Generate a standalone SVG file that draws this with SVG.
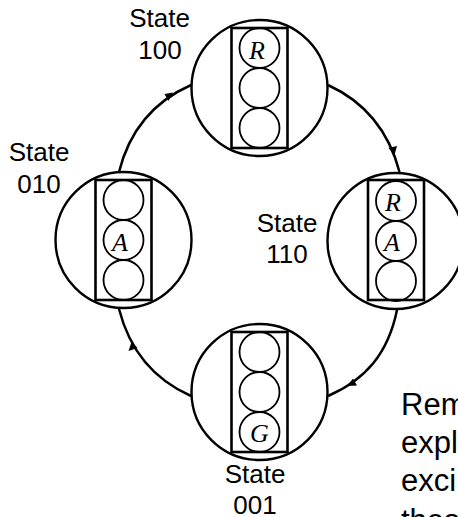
<svg xmlns="http://www.w3.org/2000/svg" width="458" height="517" viewBox="0 0 458 517">
<style>
.o{fill:none;stroke:#000;stroke-width:2.4}
.b{fill:none;stroke:#000;stroke-width:2.6}
.l{fill:none;stroke:#000;stroke-width:1.8}
.c{fill:none;stroke:#000;stroke-width:2.5}
.t{font-family:"Liberation Sans",Arial,sans-serif;font-size:26px;fill:#000;text-anchor:middle}
.n{font-family:"Liberation Sans",Arial,sans-serif;font-size:31px;fill:#000}
.g{font-family:"Liberation Serif","Times New Roman",serif;font-size:26px;font-style:italic;fill:#000;text-anchor:middle}
.a{fill:#000;stroke:none}
</style>
<g id="connectors">
<path class="c" d="M328 85C363 101 388 128 399.500 172"/>
<path class="c" d="M397 310C388 354 365 380 328 396"/>
<path class="c" d="M191 396C155 380 130 352 119 309"/>
<path class="c" d="M119 172C130 128 155 101 191 85"/>
<polygon class="a" points="394.500,155 388.500,148 397,146"/>
<polygon class="a" points="347,386 353,378.500 357,385.500"/>
<polygon class="a" points="131.500,342 128.500,351 137.500,348"/>
<polygon class="a" points="173,92.500 164.500,94 168.500,101"/>
</g>
<g id="state100">
<circle class="o" cx="259.500" cy="88" r="68"/>
<rect class="b" x="231.500" y="28" width="56" height="120"/>
<circle class="l" cx="259.500" cy="48" r="20"/><circle class="l" cx="259.500" cy="88" r="20"/><circle class="l" cx="259.500" cy="128" r="20"/>
<text class="g" x="257" y="59">R</text>
<text class="t" x="159.500" y="27">State</text><text class="t" x="160" y="59">100</text>
</g>
<g id="state110">
<circle class="o" cx="395.500" cy="241" r="68"/>
<rect class="b" x="368" y="180" width="56" height="120"/>
<circle class="l" cx="396" cy="201" r="20"/><circle class="l" cx="396" cy="241" r="20"/><circle class="l" cx="396" cy="281" r="20"/>
<text class="g" x="393" y="211">R</text><text class="g" x="392" y="251">A</text>
<text class="t" x="287" y="232">State</text><text class="t" x="287" y="263">110</text>
</g>
<g id="state001">
<circle class="o" cx="259.500" cy="392" r="68"/>
<rect class="b" x="231.500" y="332" width="56" height="120"/>
<circle class="l" cx="259.500" cy="352" r="20"/><circle class="l" cx="259.500" cy="392" r="20"/><circle class="l" cx="259.500" cy="432" r="20"/>
<text class="g" x="259.500" y="441.500">G</text>
<text class="t" x="255" y="483">State</text><text class="t" x="255" y="514">001</text>
</g>
<g id="state010">
<circle class="o" cx="123.500" cy="240" r="68"/>
<rect class="b" x="95.500" y="180" width="56" height="120"/>
<circle class="l" cx="123.500" cy="200" r="20"/><circle class="l" cx="123.500" cy="240" r="20"/><circle class="l" cx="123.500" cy="280" r="20"/>
<text class="g" x="120" y="251">A</text>
<text class="t" x="39" y="161">State</text><text class="t" x="39" y="193">010</text>
</g>
<g id="note">
<text class="n" x="401" y="415">Rem</text>
<text class="n" x="401" y="453">expl</text>
<text class="n" x="401" y="491">exci</text>
<text class="n" x="401" y="531">thes</text>
</g>
</svg>
